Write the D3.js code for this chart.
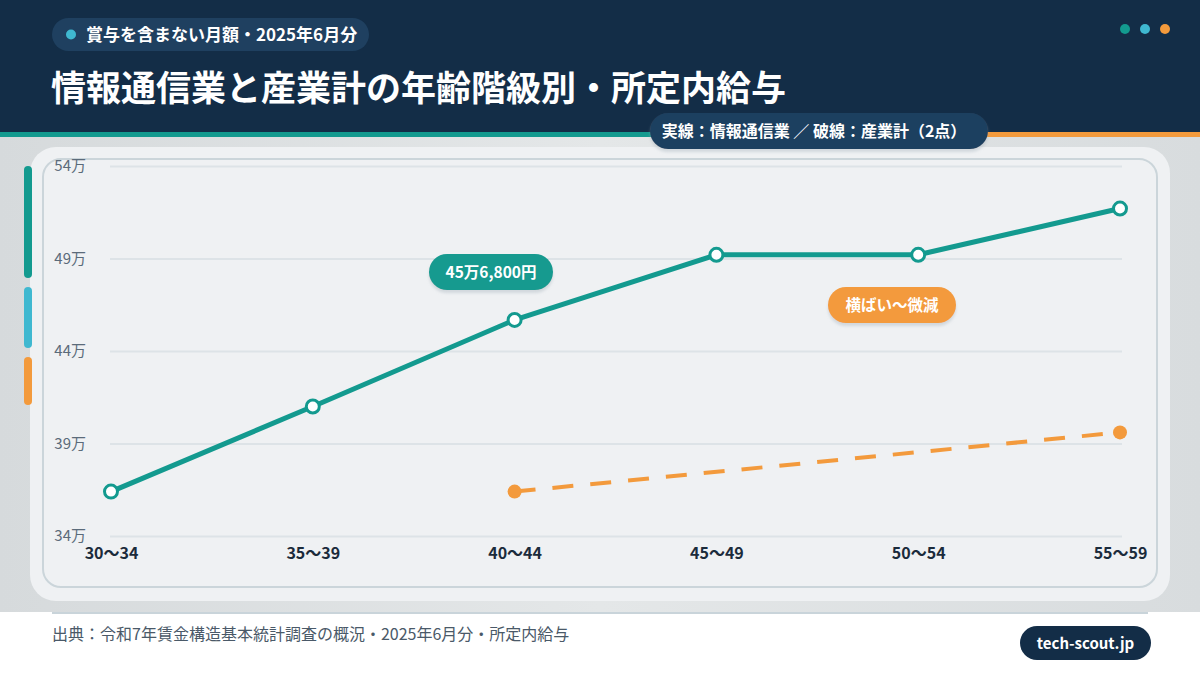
<!DOCTYPE html>
<html>
<head>
<meta charset="utf-8">
<script src="https://cdn.jsdelivr.net/npm/d3@7"></script>
<style>
  body { margin: 0; padding: 0; background: #ffffff; }
  svg { display: block; font-family: "Noto Sans CJK JP", "Noto Sans", sans-serif; }
</style>
</head>
<body>
<div id="wrapper"></div>
<script>
// データ（万円）
const ageGroups = ["30〜34", "35〜39", "40〜44", "45〜49", "50〜54", "55〜59"];
const infoComm = [36.4, 41.0, 45.68, 49.2, 49.2, 51.7];
const allIndustryAges = ["40〜44", "55〜59"];
const allIndustry = [36.4, 39.6];
const yTicks = [34, 39, 44, 49, 54];

const W = 1200, H = 675;
const teal = "#139a8f", cyan = "#3fb8d0", orange = "#f39a3c", navy = "#132d47", pill = "#1f4060";

const svg = d3.select("#wrapper").append("svg")
  .attr("width", W).attr("height", H);

const defs = svg.append("defs");
const bg = defs.append("linearGradient").attr("id", "bg").attr("x1", 0).attr("x2", 1);
bg.append("stop").attr("offset", 0).attr("stop-color", "#d6dadc");
bg.append("stop").attr("offset", 0.5).attr("stop-color", "#e4e7e8");
bg.append("stop").attr("offset", 1).attr("stop-color", "#d8dcde");
const shadow = defs.append("filter").attr("id", "sh").attr("x", -0.1).attr("y", -0.1).attr("width", 1.2).attr("height", 1.4);
shadow.append("feDropShadow").attr("dx", 0).attr("dy", 3).attr("stdDeviation", 1.5)
  .attr("flood-color", "#9aa8b2").attr("flood-opacity", 0.35);

// 背景
svg.append("rect").attr("width", W).attr("height", H).attr("fill", "#ffffff");
svg.append("rect").attr("y", 137).attr("width", W).attr("height", 475).attr("fill", "url(#bg)");

// ヘッダー
svg.append("rect").attr("width", W).attr("height", 132).attr("fill", navy);
svg.append("rect").attr("y", 132).attr("width", 900).attr("height", 5).attr("fill", teal);
svg.append("rect").attr("x", 900).attr("y", 132).attr("width", 48).attr("height", 5).attr("fill", cyan);
svg.append("rect").attr("x", 948).attr("y", 132).attr("width", 252).attr("height", 5).attr("fill", orange);

// バッジ
svg.append("rect").attr("x", 52).attr("y", 18).attr("width", 317).attr("height", 33)
  .attr("rx", 16.5).attr("fill", pill);
svg.append("circle").attr("cx", 71).attr("cy", 34.5).attr("r", 5).attr("fill", cyan);
svg.append("text").attr("x", 86).attr("y", 40.5).attr("fill", "#ffffff")
  .attr("font-size", 17).attr("font-weight", 700)
  .text("賞与を含まない月額・2025年6月分");

svg.append("text").attr("x", 51).attr("y", 101).attr("fill", "#ffffff")
  .attr("font-size", 35).attr("font-weight", 700)
  .text("情報通信業と産業計の年齢階級別・所定内給与");

[teal, cyan, orange].forEach((c, i) => {
  svg.append("circle").attr("cx", 1125 + i * 20).attr("cy", 29).attr("r", 5).attr("fill", c);
});

// カード
svg.append("rect").attr("x", 30).attr("y", 147).attr("width", 1140).attr("height", 454)
  .attr("rx", 26).attr("fill", "#eff1f3");
svg.append("rect").attr("x", 43).attr("y", 159).attr("width", 1114).attr("height", 428)
  .attr("rx", 18).attr("fill", "none").attr("stroke", "#cbd5da").attr("stroke-width", 2);

// 左のアクセント
[[166, 278, teal], [287, 348, cyan], [357, 405, orange]].forEach(([y0, y1, c]) => {
  svg.append("rect").attr("x", 24).attr("y", y0).attr("width", 8).attr("height", y1 - y0)
    .attr("rx", 4).attr("fill", c);
});

// 凡例
svg.append("rect").attr("x", 650).attr("y", 113).attr("width", 338).attr("height", 36)
  .attr("rx", 18).attr("fill", pill).attr("filter", "url(#sh)");
svg.append("text").attr("x", 814).attr("y", 137).attr("text-anchor", "middle")
  .attr("fill", "#ffffff").attr("font-size", 16).attr("font-weight", 700)
  .text("実線：情報通信業 ／ 破線：産業計（2点）");

// スケール
const xScale = d3.scalePoint().domain(ageGroups).range([111, 1120]);
const yScale = d3.scaleLinear().domain([34, 54]).range([536, 166]);

const yAxis = d3.axisLeft(yScale).tickValues(yTicks)
  .tickSize(-1012).tickPadding(24).tickFormat(d => d + "万");
const gy = svg.append("g").attr("transform", "translate(110,0)").call(yAxis);
gy.select(".domain").remove();
gy.selectAll(".tick line").attr("stroke", "#dde3e7").attr("stroke-width", 2);
gy.selectAll(".tick text").attr("fill", "#5b6b7a").attr("font-size", 15)
  .attr("font-family", "'Noto Sans CJK JP', sans-serif");

const xAxis = d3.axisBottom(xScale).tickSize(0).tickPadding(12);
const gx = svg.append("g").attr("transform", "translate(0,536)").call(xAxis);
gx.select(".domain").remove();
gx.selectAll(".tick text").attr("fill", "#1b2b3b").attr("font-size", 16).attr("font-weight", 700)
  .attr("font-family", "'Noto Sans CJK JP', sans-serif");

// 産業計（破線）
const allData = allIndustryAges.map((a, i) => ({ age: a, v: allIndustry[i] }));
const line = d3.line().x(d => xScale(d.age)).y(d => yScale(d.v));
svg.append("path").attr("d", line(allData)).attr("fill", "none")
  .attr("stroke", orange).attr("stroke-width", 4).attr("stroke-dasharray", "21 17");
svg.selectAll(".allDot").data(allData).join("circle")
  .attr("cx", d => xScale(d.age)).attr("cy", d => yScale(d.v)).attr("r", 7).attr("fill", orange);

// 情報通信業（実線）
const infoData = ageGroups.map((a, i) => ({ age: a, v: infoComm[i] }));
svg.append("path").attr("d", line(infoData)).attr("fill", "none")
  .attr("stroke", teal).attr("stroke-width", 5).attr("stroke-linejoin", "round");
svg.selectAll(".infoDot").data(infoData).join("circle")
  .attr("cx", d => xScale(d.age)).attr("cy", d => yScale(d.v)).attr("r", 6.5)
  .attr("fill", "#ffffff").attr("stroke", teal).attr("stroke-width", 3);

// 注釈
function tag(cx, cy, w, color, label) {
  svg.append("rect").attr("x", cx - w / 2).attr("y", cy - 18).attr("width", w).attr("height", 36)
    .attr("rx", 18).attr("fill", color).attr("filter", "url(#sh)");
  svg.append("text").attr("x", cx).attr("y", cy + 5.5).attr("text-anchor", "middle")
    .attr("fill", "#ffffff").attr("font-size", 15.5).attr("font-weight", 700).text(label);
}
tag(491, 272, 124, teal, "45万6,800円");
tag(892, 305, 128, orange, "横ばい〜微減");

// フッター
svg.append("rect").attr("x", 0).attr("y", 612).attr("width", W).attr("height", 63).attr("fill", "#ffffff");
svg.append("line").attr("x1", 52).attr("x2", 1148).attr("y1", 613).attr("y2", 613)
  .attr("stroke", "#c9d4da").attr("stroke-width", 2);
svg.append("text").attr("x", 52).attr("y", 640).attr("fill", "#4a5968").attr("font-size", 16)
  .text("出典：令和7年賃金構造基本統計調査の概況・2025年6月分・所定内給与");
svg.append("rect").attr("x", 1020).attr("y", 626).attr("width", 131).attr("height", 34)
  .attr("rx", 17).attr("fill", navy);
svg.append("text").attr("x", 1085.5).attr("y", 648.5).attr("text-anchor", "middle")
  .attr("fill", "#ffffff").attr("font-size", 15).attr("font-weight", 700).text("tech-scout.jp");
</script>
</body>
</html>
